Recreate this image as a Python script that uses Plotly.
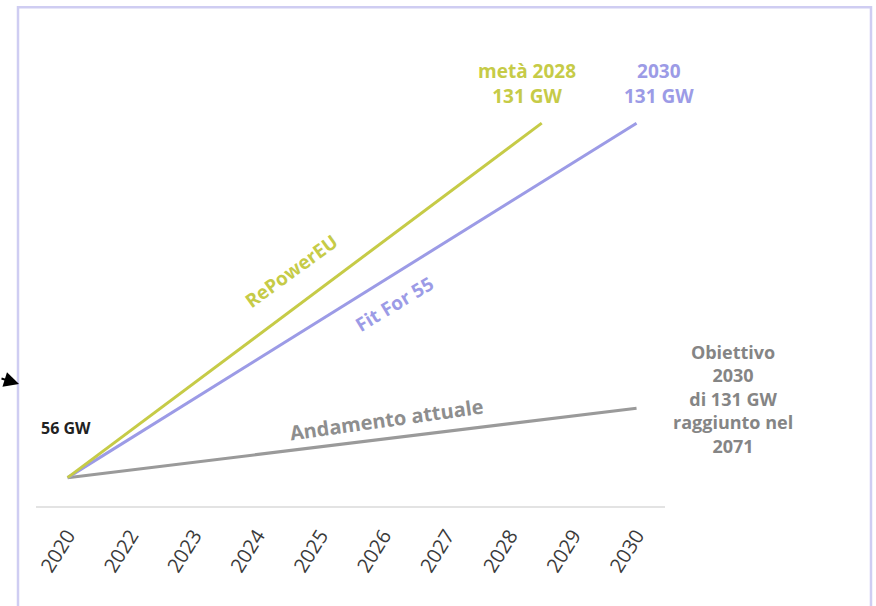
import numpy as np
import plotly.graph_objects as go

# Axis categories (2021 is not shown on the axis)
tick_years = [2020, 2022, 2023, 2024, 2025, 2026, 2027, 2028, 2029, 2030]
tick_labels = [str(y) for y in tick_years]

# Installed capacity trajectories (GW)
repower_years = [2020, 2028.5]
repower_gw = [56, 131]
fit55_years = [2020, 2030]
fit55_gw = [56, 131]
trend_years = [2020, 2030]
trend_gw = [56, 70.7]

YELLOW = "#c6cb47"
PURPLE = "#9c9be6"
GREY = "#9a9a9a"
FONT = "Open Sans"


def pos(years):
    # position of a (possibly fractional) year on the evenly spaced tick axis
    return np.interp(years, tick_years, np.arange(len(tick_years)))


fig = go.Figure()
fig.add_trace(go.Scatter(x=pos(trend_years), y=trend_gw, mode="lines",
                         line=dict(color=GREY, width=3), hoverinfo="skip"))
fig.add_trace(go.Scatter(x=pos(fit55_years), y=fit55_gw, mode="lines",
                         line=dict(color=PURPLE, width=3), hoverinfo="skip"))
fig.add_trace(go.Scatter(x=pos(repower_years), y=repower_gw, mode="lines",
                         line=dict(color=YELLOW, width=3), hoverinfo="skip"))

ann = []
# end-point labels
ann.append(dict(x=7.26, y=repower_gw[-1], xref="x", yref="y", yshift=40,
                text="<b>metà 2028<br>131 GW</b>", showarrow=False,
                font=dict(family=FONT, size=19, color=YELLOW)))
ann.append(dict(x=9.35, y=fit55_gw[-1], xref="x", yref="y", yshift=40,
                text="<b>2030<br>131 GW</b>", showarrow=False,
                font=dict(family=FONT, size=19, color=PURPLE)))
ann.append(dict(x=0, y=fit55_gw[0], xref="x", yref="y", xshift=-2, yshift=50,
                text="<b>56 GW</b>", showarrow=False,
                font=dict(family=FONT, size=16, color="#222222")))
# series names along the lines
ann.append(dict(x=3.54, y=99.7, xref="x", yref="y",
                text="<b>RePowerEU</b>", showarrow=False, textangle=-36,
                font=dict(family=FONT, size=19, color=YELLOW)))
ann.append(dict(x=5.17, y=92.7, xref="x", yref="y",
                text="<b>Fit For 55</b>", showarrow=False, textangle=-31,
                font=dict(family=FONT, size=19, color=PURPLE)))
ann.append(dict(x=5.05, y=68.2, xref="x", yref="y",
                text="<b>Andamento attuale</b>", showarrow=False, textangle=-8,
                font=dict(family=FONT, size=20, color="#8e8e8e")))
ann.append(dict(x=1.108, y=0.238, xref="paper", yref="paper",
                xanchor="center", yanchor="middle",
                text="<b>Obiettivo<br>2030<br>di 131 GW<br>raggiunto nel<br>2071</b>",
                showarrow=False, align="center",
                font=dict(family=FONT, size=18, color="#858585")))
# pointer arrow on the left edge
ann.append(dict(x=-0.027, y=0.2717, xref="paper", yref="paper",
                ax=-20, ay=-6, axref="pixel", ayref="pixel",
                text="", showarrow=True, arrowhead=2, arrowsize=1.5,
                arrowwidth=2, arrowcolor="#000000"))

fig.update_layout(
    width=876, height=606,
    margin=dict(l=36, r=211, t=57, b=100),
    paper_bgcolor="white", plot_bgcolor="white",
    showlegend=False,
    annotations=ann,
    shapes=[dict(type="rect", xref="paper", yref="paper",
                 x0=-0.0286, x1=1.3275, y0=-0.26, y1=1.111,
                 line=dict(color="#cfcdf2", width=2.5), layer="below")],
    xaxis=dict(range=[-0.5, 9.45], tickvals=list(range(len(tick_years))),
               ticktext=tick_labels, tickangle=-58, showgrid=False,
               zeroline=False, showline=True, linecolor="#e3e3e3", linewidth=2,
               ticks="", ticklabelstandoff=8,
               tickfont=dict(family=FONT, size=20, color="#3a3a3a")),
    yaxis=dict(range=[50, 145], showgrid=False, zeroline=False,
               showticklabels=False, showline=False),
)

fig.write_html("out.html")
